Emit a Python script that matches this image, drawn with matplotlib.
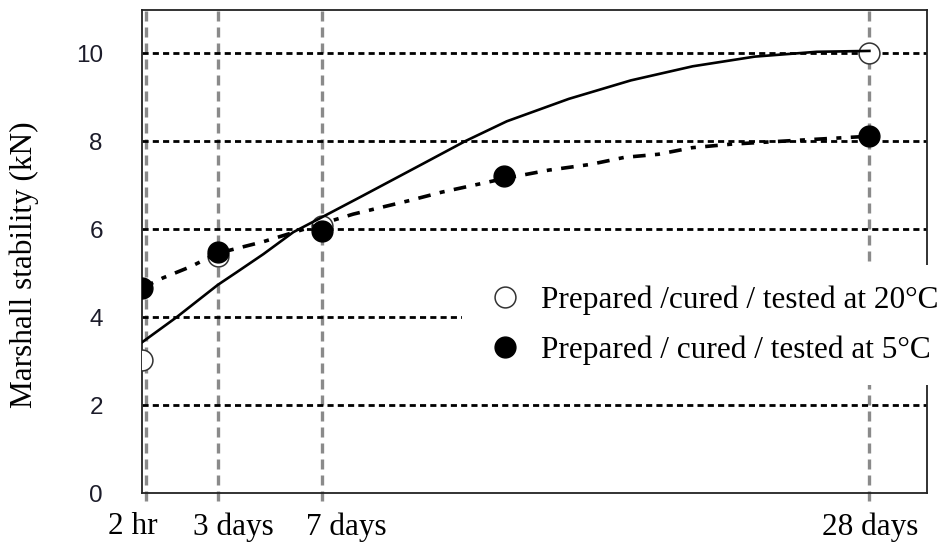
import matplotlib
matplotlib.use("Agg")
import matplotlib.pyplot as plt
import matplotlib.transforms as mtransforms
from matplotlib.lines import Line2D

# ---------------- data (x in days) ----------------
tick_days = [2 / 24, 3, 7, 28]
tick_labels = ["2 hr", "3 days", "7 days", "28 days"]
y_ticks = [0, 2, 4, 6, 8, 10]

# measured points
open_days = [2 / 24, 3, 7, 28]
open_vals = [3.02, 5.38, 6.08, 10.0]
filled_days = [2 / 24, 3, 7, 14, 28]
filled_vals = [4.66, 5.47, 5.96, 7.21, 8.11]

# trend curves
solid_days = [0.083, 1.43, 3.0, 3.73, 4.75, 5.9, 7.0, 8.54, 10.92, 12.5,
              14.09, 16.47, 18.85, 21.22, 23.6, 25.98, 28.0]
solid_vals = [3.42, 4.0, 4.73, 5.02, 5.43, 5.93, 6.27, 6.75, 7.5, 8.0,
              8.45, 8.96, 9.38, 9.7, 9.92, 10.03, 10.05]
dashdot_days = [0.083, 0.9, 1.94, 3.0, 4.73, 8.2, 10.3, 11.6, 13.0, 14.0,
                15.7, 17.3, 18.6, 19.9, 21.2, 22.7, 25.3, 28.0]
dashdot_vals = [4.66, 4.89, 5.14, 5.45, 5.71, 6.34, 6.64, 6.84, 7.02, 7.15,
                7.34, 7.47, 7.63, 7.70, 7.85, 7.93, 8.02, 8.11]

legend_labels = ["Prepared /cured / tested at 20\u00b0C",
                 "Prepared / cured / tested at 5\u00b0C"]
ylabel = "Marshall stability (kN)"

# ---------------- style ----------------
SERIF = "Liberation Serif"
SANS = "Liberation Sans"
FS = 22.5
DPI = 100

fig = plt.figure(figsize=(9.49, 5.42), dpi=DPI)
ax = fig.add_axes([141.7 / 949, 1 - 493 / 542, (927 - 141.7) / 949, (493 - 10) / 542])

ax.set_xlim(2 / 24, 30.21)
ax.set_ylim(0.043, 10.98)

for s in ax.spines.values():
    s.set_linewidth(1.3)
    s.set_color("#222222")

# horizontal dotted grid
for yv in y_ticks[1:]:
    ax.axhline(yv, color="black", lw=2.0, linestyle=(0, (2.2, 1.5)), zorder=1.5)

# vertical grey dashed grid (extends slightly below the axis)
blend = mtransforms.blended_transform_factory(ax.transData, ax.transAxes)
for i, xv in enumerate(tick_days):
    tr = blend
    if i == 0:
        tr = blend + mtransforms.ScaledTranslation(4 / DPI, 0, fig.dpi_scale_trans)
    ax.plot([xv, xv], [-0.016, 1.0], transform=tr, color="#8a8a8a", lw=2.4,
            linestyle=(0, (3.0, 1.8)), clip_on=False, zorder=1)

# markers
ax.plot(open_days, open_vals, linestyle="none", marker="o", ms=15,
        mfc="white", mec="#333333", mew=1.1, zorder=3)
ax.plot(filled_days, filled_vals, linestyle="none", marker="o", ms=15,
        mfc="black", mec="black", zorder=3.5)

# curves
ax.plot(solid_days, solid_vals, color="black", lw=1.9, zorder=4,
        solid_joinstyle="round")
ax.plot(dashdot_days, dashdot_vals, color="black", lw=2.6,
        linestyle=(0, (3.5, 2.6, 1.4, 2.6)), zorder=4)

# ticks
ax.set_xticks(tick_days)
ax.set_xticklabels(tick_labels, fontfamily=SERIF, fontsize=FS)
ax.tick_params(axis="x", length=0, pad=14)
offsets_px = [-8.4, 15.2, 24.7, 0.7]
for lab, dx in zip(ax.get_xticklabels(), offsets_px):
    lab.set_transform(lab.get_transform() +
                      mtransforms.ScaledTranslation(dx / DPI, 0, fig.dpi_scale_trans))

ax.set_yticks(y_ticks)
ax.set_yticklabels([str(v) for v in y_ticks], fontfamily=SANS, fontsize=17.5,
                   color="#1c1c2a")
ax.tick_params(axis="y", length=0, pad=28)

ax.set_ylabel(ylabel, fontfamily=SERIF, fontsize=FS)
ax.yaxis.set_label_coords(-0.131, 0.472)

# legend
handles = [
    Line2D([], [], linestyle="none", marker="o", ms=15, mfc="white",
           mec="#333333", mew=1.1),
    Line2D([], [], linestyle="none", marker="o", ms=15, mfc="black", mec="black"),
]
leg = fig.legend(handles, legend_labels, loc="upper left",
                 bbox_to_anchor=(462 / 949, 1 - 265 / 542),
                 frameon=True, facecolor="white", edgecolor="none",
                 framealpha=1.0, fancybox=False, borderpad=0.65,
                 handlelength=1.45, handletextpad=0.43, labelspacing=0.66,
                 borderaxespad=0, prop={"family": SERIF, "size": FS})

fig.savefig("out.png", dpi=DPI)
